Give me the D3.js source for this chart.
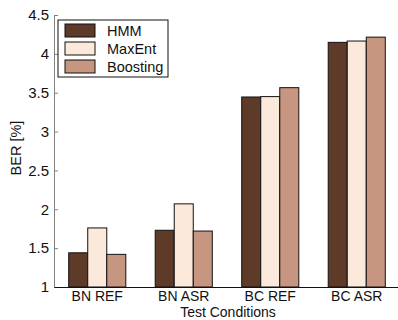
<!DOCTYPE html>
<html>
<head>
<meta charset="utf-8">
<script src="https://cdn.jsdelivr.net/npm/d3@7"></script>
<style>
  body { margin: 0; background: #fff; }
  svg { display: block; font-family: "Liberation Sans", Arial, sans-serif; }
</style>
</head>
<body>
<svg id="chart" width="398" height="320"></svg>
<script>
// data
const categories = ["BN REF", "BN ASR", "BC REF", "BC ASR"];
const seriesNames = ["HMM", "MaxEnt", "Boosting"];
const hmm = [1.44, 1.73, 3.445, 4.148];
const maxEnt = [1.76, 2.07, 3.45, 4.165];
const boosting = [1.42, 1.72, 3.565, 4.215];
const yTicks = [1, 1.5, 2, 2.5, 3, 3.5, 4, 4.5];
const colors = ["#5e3a28", "#fbe9dc", "#c69680"];

const seriesValues = [hmm, maxEnt, boosting];
const fontSize = 14.5;

const svg = d3.select("#chart"),
      margin = {top: 15, right: -2, bottom: 33, left: 54},
      width = 398 - margin.left - margin.right,
      height = 320 - margin.top - margin.bottom;

const g = svg.append("g")
    .attr("transform", "translate(" + margin.left + "," + margin.top + ")");

const x = d3.scaleBand().domain(categories).range([0, width]).paddingInner(0).paddingOuter(0);
const xInner = d3.scaleBand().domain(seriesNames).range([0, x.bandwidth() * 0.66]);
const y = d3.scaleLinear().domain([1, 4.5]).range([height, 0]);

// bars
const groups = g.selectAll(".group")
    .data(categories)
    .enter().append("g")
    .attr("class", "group")
    .attr("transform", d => "translate(" + (x(d) + x.bandwidth() * 0.17) + ",0)");

groups.selectAll("rect")
    .data((d, i) => seriesNames.map((s, j) => ({s: s, v: seriesValues[j][i], j: j})))
    .enter().append("rect")
    .attr("x", d => xInner(d.s))
    .attr("width", xInner.bandwidth())
    .attr("y", d => y(d.v))
    .attr("height", d => y(1) - y(d.v))
    .attr("fill", d => colors[d.j])
    .attr("stroke", "#111")
    .attr("stroke-width", 1);

// y axis
const yAxis = g.append("g")
    .call(d3.axisLeft(y).tickValues(yTicks).tickSizeInner(-4).tickSizeOuter(0).tickPadding(5)
        .tickFormat(d3.format("")));
yAxis.select(".domain").attr("stroke", "#808080");
yAxis.selectAll(".tick line").attr("stroke", "#808080");
yAxis.selectAll("text").attr("font-size", 15).attr("fill", "#111")
    .attr("font-family", "Liberation Sans, Arial, sans-serif");

// x axis
const xAxis = g.append("g")
    .attr("transform", "translate(0," + height + ")")
    .call(d3.axisBottom(x).tickSize(0).tickPadding(4));
xAxis.select(".domain").attr("stroke", "#111");
xAxis.selectAll("text").attr("font-size", 14).attr("fill", "#111")
    .attr("font-family", "Liberation Sans, Arial, sans-serif");

// axis titles
svg.append("text")
    .attr("transform", "translate(21,148) rotate(-90)")
    .attr("text-anchor", "middle")
    .attr("font-size", fontSize)
    .attr("fill", "#111")
    .text("BER [%]");

svg.append("text")
    .attr("x", 228)
    .attr("y", 317)
    .attr("text-anchor", "middle")
    .attr("font-size", 14)
    .attr("fill", "#111")
    .text("Test Conditions");

// legend
const legend = svg.append("g").attr("transform", "translate(58,20)");
legend.append("rect")
    .attr("width", 110).attr("height", 57)
    .attr("fill", "#fff").attr("stroke", "#111").attr("stroke-width", 1);

const item = legend.selectAll(".item")
    .data(seriesNames)
    .enter().append("g")
    .attr("class", "item")
    .attr("transform", (d, i) => "translate(7," + (4 + i * 18) + ")");

item.append("rect")
    .attr("width", 30).attr("height", 13)
    .attr("fill", (d, i) => colors[i])
    .attr("stroke", "#111");

item.append("text")
    .attr("x", 42).attr("y", 12)
    .attr("font-size", fontSize)
    .attr("fill", "#111")
    .text(d => d);
</script>
</body>
</html>
